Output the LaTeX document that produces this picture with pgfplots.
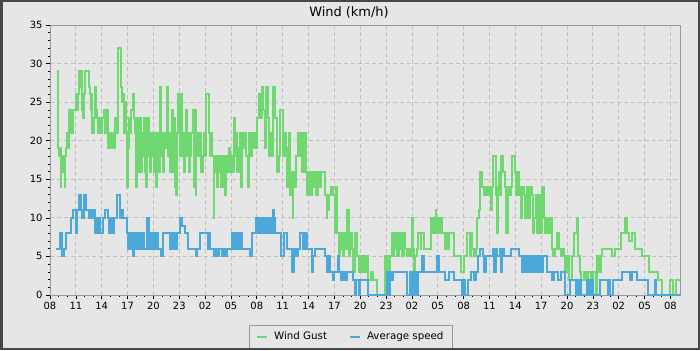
\documentclass[border=0pt]{standalone}
\usepackage{fontspec}
\setmainfont{DejaVu Sans}
\usepackage{pgfplots}
\pgfplotsset{compat=1.18}
\definecolor{bgc}{HTML}{E6E6E6}
\definecolor{framec}{HTML}{474747}
\definecolor{axc}{HTML}{999999}
\definecolor{gridc}{HTML}{C0C0C0}
\definecolor{gust}{HTML}{70D870}
\definecolor{avg}{HTML}{4DA8DA}
\begin{document}
\begin{tikzpicture}[x=1bp,y=1bp]
\fill[bgc] (0,0) rectangle (700,350);
\begin{axis}[
  at={(50bp,55bp)}, anchor=south west, scale only axis,
  width=630bp, height=270bp,
  xmin=0, xmax=73.11, ymin=0, ymax=35,
  axis background/.style={fill=bgc},
  axis line style={axc, line width=0.8bp},
  xtick={0,3,...,72},
  xticklabels={08,11,14,17,20,23,02,05,08,11,14,17,20,23,02,05,08,11,14,17,20,23,02,05,08},
  ytick={0,5,...,35},
  minor x tick num=2, minor y tick num=4,
  tick align=outside, xtick pos=bottom, ytick pos=left,
  major tick length=4bp, minor tick length=2bp,
  every tick/.style={black, line width=0.7bp},
  xmajorgrids, ymajorgrids,
  major grid style={gridc, dash pattern=on 4bp off 3bp, line width=0.8bp},
  ticklabel style={font=\fontsize{10}{12}\selectfont},
  /pgf/number format/assume math mode=true,
  legend columns=2,
  legend cell align=left,
  legend image code/.code={\draw[#1, line width=2bp] (0bp,0bp) -- (10bp,0bp);},
  legend style={at={(0.4775,-0.1111)}, anchor=north, draw=axc, fill=bgc,
    font=\fontsize{10.3}{12}\selectfont, inner xsep=7bp, inner ysep=5bp,
    /tikz/every odd column/.append style={column sep=4bp},
    /tikz/every even column/.append style={column sep=20bp}},
]
\addplot[gust, line width=2bp, const plot, no marks] table {
0.77 29
0.95 19
1.05 18
1.15 19
1.25 14
1.32 18
1.40 16
1.50 18
1.60 16
1.70 14
1.78 18
1.86 19
1.95 21
2.05 19
2.15 21
2.25 24
2.35 21
2.45 24
2.55 21
2.65 24
3.05 26
3.15 24
3.30 26
3.40 29
3.55 27
3.65 29
3.75 24
3.85 23
3.95 26
4.06 29
4.50 27
4.60 26
4.70 24
4.80 26
4.90 21
5.05 23
5.20 27
5.30 24
5.45 23
5.60 21
5.75 23
5.90 21
6.05 23
6.25 24
6.40 21
6.55 24
6.70 19
6.85 21
7.00 19
7.20 21
7.40 19
7.55 23
7.70 21
7.85 23
7.93 32
8.20 27
8.35 25
8.45 26
8.55 21
8.70 25
8.85 21
8.95 14
9.05 19
9.15 23
9.30 21
9.45 24
9.60 26
9.80 23
9.90 21
10.00 14
10.10 23
10.20 16
10.30 21
10.40 18
10.50 23
10.60 16
10.70 21
10.80 18
10.90 23
11.00 16
11.10 14
11.20 21
11.30 23
11.45 18
11.55 21
11.65 16
11.75 21
11.85 18
11.95 21
12.05 16
12.20 21
12.35 14
12.45 19
12.55 21
12.65 16
12.75 27
12.90 18
13.00 21
13.10 16
13.20 21
13.35 19
13.45 21
13.55 27
13.70 18
13.80 21
13.90 16
14.00 21
14.10 24
14.25 16
14.35 21
14.45 23
14.55 14
14.65 13
14.75 21
14.82 26
15.05 18
15.15 26
15.30 21
15.45 18
15.55 16
15.65 21
15.75 24
15.95 18
16.05 21
16.15 16
16.25 18
16.40 21
16.55 24
16.70 14
16.80 24
16.90 13
17.00 18
17.10 21
17.25 18
17.40 21
17.55 16
17.70 18
17.85 21
17.99 18
18.10 26
18.45 21
18.55 18
18.70 21
18.85 18
19.00 10
19.05 18
19.15 16
19.25 18
19.40 14
19.50 18
19.60 16
19.75 18
19.90 14
20.05 18
20.20 16
20.35 13
20.45 18
20.60 16
20.75 19
20.90 16
21.05 18
21.15 16
21.30 23
21.45 18
21.60 21
21.75 16
21.90 19
22.05 21
22.15 14
22.30 21
22.50 19
22.65 21
22.80 18
22.95 14
23.05 21
23.20 18
23.40 21
23.50 19
23.65 21
23.80 19
24.00 23
24.20 26
24.40 23
24.55 27
24.75 24
24.95 19
25.05 27
25.35 23
25.45 18
25.60 21
25.75 18
25.85 27
26.15 23
26.30 21
26.40 16
26.55 18
26.70 24
27.00 18
27.20 21
27.35 18
27.45 14
27.60 19
27.75 21
27.90 13
28.00 16
28.20 10
28.25 16
28.40 14
28.55 18
28.75 21
29.00 18
29.15 21
29.30 16
29.50 21
29.70 16
29.85 13
30.00 16
30.20 13
30.40 16
30.55 14
30.70 16
30.90 13
31.05 16
31.20 14
31.40 16
31.95 13
32.10 10
32.20 11
32.35 13
32.60 14
32.85 13
33.05 8
33.20 14
33.30 8
33.55 5
33.70 8
33.85 6
34.00 5
34.15 8
34.40 6
34.50 11
34.70 5
34.85 8
35.10 6
35.20 3
35.35 8
35.60 5
35.80 3
35.95 5
36.20 3
36.40 5
36.60 3
36.80 5
36.95 2
37.30 3
37.50 2
37.90 0
38.90 5
39.00 2
39.10 5
39.30 3
39.45 5
39.70 8
39.80 5
39.95 8
40.05 6
40.15 8
40.30 5
40.45 8
40.60 6
40.75 8
40.90 5
41.05 8
41.20 6
41.40 5
41.55 6
41.75 5
41.97 10
42.10 6
42.25 3
42.40 5
42.55 6
42.75 8
43.00 6
43.10 8
43.35 6
44.20 10
44.45 8
44.55 10
44.75 11
44.85 8
45.00 10
45.10 8
45.30 10
45.50 8
45.80 6
46.00 8
46.20 6
46.30 8
46.85 5
47.65 3
48.10 5
48.40 8
48.70 5
48.85 8
49.00 6
49.20 5
49.45 6
49.55 10
49.80 11
49.90 16
50.10 14
50.40 13
50.60 14
50.85 13
51.00 14
51.15 11
51.30 14
51.35 18
51.70 13
51.85 8
51.95 14
52.10 16
52.20 13
52.30 18
52.60 16
52.75 14
52.95 8
53.10 14
53.25 13
53.45 14
53.65 18
54.00 16
54.10 13
54.25 16
54.40 13
54.55 14
54.70 10
54.80 14
55.00 13
55.15 10
55.30 14
55.45 13
55.60 10
55.75 14
55.90 13
56.05 8
56.20 10
56.35 13
56.55 8
56.70 13
56.85 8
57.05 14
57.35 10
57.50 8
57.65 10
57.85 8
58.00 10
58.20 6
58.35 5
58.55 6
58.80 8
59.10 6
59.25 5
59.40 6
59.60 5
59.75 3
59.95 5
60.20 2
60.60 5
60.80 8
61.20 10
61.30 5
61.45 3
61.65 2
62.00 3
62.20 2
62.45 3
62.80 2
63.00 3
63.40 0
63.50 5
63.70 3
63.90 5
64.00 6
65.20 5
65.60 6
66.30 8
66.70 10
67.00 8
67.20 7
67.50 8
67.90 6
68.70 5
69.50 3
70.50 2
71.00 0
71.90 2
72.30 0
72.70 2
73.19 2
};
\addlegendentry{Wind Gust}
\addplot[avg, line width=2bp, const plot, no marks] table {
0.70 6
1.16 8
1.39 5
1.60 6
1.86 8
2.40 10
2.71 11
3.05 8
3.15 11
3.40 13
3.60 11
3.75 10
4.00 13
4.20 11
4.50 10
4.65 11
4.90 10
5.10 11
5.25 8
5.35 10
5.50 8
5.65 10
5.85 8
6.10 10
6.40 11
6.75 10
6.90 8
7.05 10
7.25 8
7.40 10
7.75 13
8.10 10
8.25 11
8.45 10
8.90 8
9.00 6
9.10 8
9.20 6
9.35 8
9.50 7
9.60 5
9.80 8
9.90 6
10.10 8
10.25 6
10.45 8
10.60 6
10.75 8
10.90 6
11.30 10
11.45 6
11.65 8
11.80 6
12.00 8
12.20 6
12.40 8
12.55 6
12.90 5
13.15 8
13.95 6
14.10 8
14.30 6
14.50 8
14.65 6
14.75 8
15.10 10
15.35 9
15.65 8
16.05 6
16.95 5
17.10 6
17.40 8
18.30 6
18.40 8
18.60 6
19.00 5
19.20 6
19.40 5
19.60 6
19.95 5
20.15 6
20.35 5
20.55 6
21.10 8
21.30 6
21.45 8
21.65 6
21.80 8
22.00 6
22.15 8
22.25 6
23.20 5
23.45 8
23.95 10
24.10 8
24.30 10
24.50 8
24.70 10
24.85 8
25.05 10
25.30 8
25.50 10
25.75 8
25.85 11
26.00 10
26.10 8
26.75 6
26.85 5
27.20 8
27.45 6
28.10 3
28.35 6
28.60 5
28.80 6
29.00 8
29.40 6
29.60 8
29.80 6
30.35 3
30.55 5
30.75 6
31.90 5
32.10 3
32.35 5
32.55 3
32.85 2
33.00 3
33.40 5
33.50 3
33.80 2
33.95 3
34.20 2
34.45 3
35.20 2
35.40 0
35.55 2
35.80 0
36.00 2
36.90 0
39.05 3
39.25 0
39.45 3
39.70 2
39.85 3
41.40 0
41.80 3
42.00 0
42.10 3
42.30 0
42.40 3
42.60 0
42.70 3
43.20 5
43.45 3
44.90 5
45.10 3
45.80 2
46.35 3
46.90 2
47.80 0
48.00 2
48.20 0
48.45 2
48.90 3
49.20 2
49.40 3
49.70 5
49.95 6
50.20 5
50.35 3
50.45 5
50.55 3
50.65 5
51.35 6
51.55 3
51.70 6
51.85 5
52.20 6
52.35 3
52.50 6
52.70 5
53.50 6
54.40 5
54.75 3
54.85 5
54.95 3
55.05 5
55.15 3
55.25 5
55.35 3
55.45 5
55.55 3
55.65 5
55.75 3
55.85 5
55.95 3
56.05 5
56.15 3
56.25 5
56.35 3
56.45 5
56.55 3
56.65 5
56.75 3
56.85 5
56.95 3
57.05 5
57.15 3
57.25 5
57.65 3
58.20 2
58.45 3
58.95 2
59.35 3
59.80 0
60.30 2
61.05 0
61.10 2
61.30 0
61.45 2
61.60 0
62.30 2
62.45 0
62.60 2
62.75 0
62.85 2
63.00 0
63.85 2
64.70 0
64.90 2
65.00 0
65.30 2
66.35 3
67.30 2
67.55 3
68.10 2
69.45 0
70.20 2
70.35 0
73.19 0
};
\addlegendentry{Average speed}
\end{axis}
\node[anchor=base, font=\fontsize{13}{15}\selectfont] at (349,333.5) {Wind (km/h)};
\draw[framec, line width=2.5bp] (1.25,1.25) rectangle (698.75,348.75);
\pgfresetboundingbox
\useasboundingbox (0,0) rectangle (700,350);
\end{tikzpicture}
\end{document}
